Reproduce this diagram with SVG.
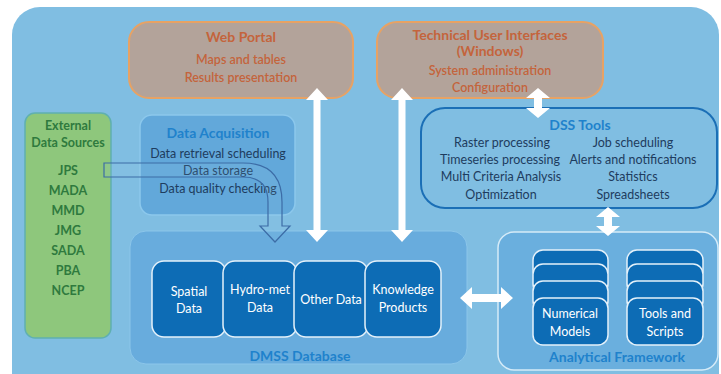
<svg xmlns="http://www.w3.org/2000/svg" width="721" height="374" viewBox="0 0 721 374">
<defs>
<style>
text{font-family:Lato,"Open Sans","Liberation Sans",sans-serif;text-anchor:middle;}
.tan{fill:#b3a39a;stroke:#e7a264;stroke-width:2;}
.tanT{fill:#c4643c;font-size:12.5px;font-weight:600;}
.tanH{fill:#c4643c;font-size:14px;font-weight:bold;}
.dk{fill:#1e3c5e;font-size:12.5px;}
.blueH{fill:#1f82cc;font-size:14px;font-weight:bold;}
.grn{fill:#2f7a3e;font-size:12.5px;font-weight:bold;}
.db{fill:#0d6cb5;stroke:#e4f1fa;stroke-width:1.5;}
.wt{fill:#ffffff;font-size:12.5px;}
.warr{fill:#ffffff;}
</style>
</defs>
<rect x="0" y="0" width="721" height="374" fill="#ffffff"/>
<rect x="12" y="7" width="707" height="400" rx="28" fill="#80bee2"/>

<g id="web-portal">
<rect class="tan" x="129" y="22" width="224" height="76" rx="20"/>
<text class="tanH" x="241" y="42">Web Portal</text>
<text class="tanT" x="241" y="64">Maps and tables</text>
<text class="tanT" x="241" y="82">Results presentation</text>
</g>

<g id="technical-ui">
<rect class="tan" x="377" y="22" width="226" height="76" rx="20"/>
<text class="tanH" x="490" y="40">Technical User Interfaces</text>
<text class="tanH" x="490" y="56">(Windows)</text>
<text class="tanT" x="490" y="75">System administration</text>
<text class="tanT" x="490" y="92">Configuration</text>
</g>

<g id="external-sources">
<rect x="25" y="113" width="86" height="225" rx="10" fill="#8ec77c" stroke="#5fb0b0" stroke-width="1.5"/>
<text class="grn" x="68" y="130">External</text>
<text class="grn" x="68" y="147">Data Sources</text>
<text class="grn" x="68" y="175">JPS</text>
<text class="grn" x="68" y="195">MADA</text>
<text class="grn" x="68" y="215">MMD</text>
<text class="grn" x="68" y="235">JMG</text>
<text class="grn" x="68" y="255">SADA</text>
<text class="grn" x="68" y="275">PBA</text>
<text class="grn" x="68" y="295">NCEP</text>
</g>

<g id="data-acquisition">
<rect x="140" y="115" width="155" height="100" rx="12" fill="#62a8da" stroke="#8cc8ec" stroke-width="1.5"/>
<text class="blueH" x="218" y="138">Data Acquisition</text>
<text class="dk" x="218" y="158">Data retrieval scheduling</text>
<text class="dk" x="218" y="175">Data storage</text>
<text class="dk" x="218" y="193">Data quality checking</text>
</g>

<g id="dss-tools">
<rect x="421" y="108" width="296" height="100" rx="24" fill="#80bee2" stroke="#1b6fb6" stroke-width="2"/>
<text class="blueH" x="580" y="130">DSS Tools</text>
<text class="dk" x="502" y="147">Raster processing</text>
<text class="dk" x="633" y="147">Job scheduling</text>
<text class="dk" x="500" y="164">Timeseries processing</text>
<text class="dk" x="633" y="164">Alerts and notifications</text>
<text class="dk" x="501" y="181">Multi Criteria Analysis</text>
<text class="dk" x="633" y="181">Statistics</text>
<text class="dk" x="501" y="199">Optimization</text>
<text class="dk" x="633" y="199">Spreadsheets</text>
</g>

<g id="dmss-database">
<rect x="130" y="231" width="337" height="133" rx="16" fill="#68acdd" stroke="#8cc6ea" stroke-width="1"/>
<text class="blueH" x="300" y="361">DMSS Database</text>
</g>
<g id="spatial-data">
<rect class="db" x="152" y="261" width="74" height="76" rx="12"/>
<text class="wt" x="189" y="296">Spatial</text>
<text class="wt" x="189" y="313">Data</text>
</g>
<g id="hydromet-data">
<rect class="db" x="223" y="261" width="74" height="76" rx="12"/>
<text class="wt" x="260" y="294">Hydro-met</text>
<text class="wt" x="260" y="312">Data</text>
</g>
<g id="other-data">
<rect class="db" x="294" y="261" width="74" height="76" rx="12"/>
<text class="wt" x="331" y="304">Other Data</text>
</g>
<g id="knowledge-products">
<rect class="db" x="365" y="261" width="76" height="76" rx="12"/>
<text class="wt" x="403" y="294">Knowledge</text>
<text class="wt" x="403" y="312">Products</text>
</g>

<g id="analytical-framework">
<rect x="498" y="232" width="220" height="138" rx="16" fill="#6aafde" stroke="#d5ebf8" stroke-width="1.5"/>
<text class="blueH" x="617" y="362">Analytical Framework</text>
</g>
<g id="numerical-models">
<rect class="db" x="533" y="250" width="75" height="30" rx="10"/>
<rect class="db" x="533" y="264" width="75" height="30" rx="10"/>
<rect class="db" x="533" y="281" width="75" height="30" rx="10"/>
<rect class="db" x="533" y="298" width="75" height="47" rx="10"/>
<text class="wt" x="570" y="318">Numerical</text>
<text class="wt" x="570" y="336">Models</text>
</g>
<g id="tools-scripts">
<rect class="db" x="627" y="250" width="76" height="30" rx="10"/>
<rect class="db" x="627" y="264" width="76" height="30" rx="10"/>
<rect class="db" x="627" y="281" width="76" height="30" rx="10"/>
<rect class="db" x="627" y="298" width="76" height="47" rx="10"/>
<text class="wt" x="665" y="318">Tools and</text>
<text class="wt" x="665" y="336">Scripts</text>
</g>

<g id="connectors">
<path class="warr" d="M317,88 L328,100 L320.5,100 L320.5,230 L328,230 L317,242 L306,230 L313.5,230 L313.5,100 L306,100 Z"/>
<path class="warr" d="M402,88 L413,100 L405.5,100 L405.5,230 L413,230 L402,242 L391,230 L398.5,230 L398.5,100 L391,100 Z"/>
<path class="warr" d="M538,88 L550,98 L542,98 L542,108 L550,108 L538,118 L526,108 L534,108 L534,98 L526,98 Z"/>
<path class="warr" d="M608,207 L620,217 L612,217 L612,226 L620,226 L608,236 L596,226 L604,226 L604,217 L596,217 Z"/>
<path class="warr" d="M460,298 L472,287 L472,294 L501,294 L501,287 L513,298 L501,309 L501,302 L472,302 L472,309 Z"/>
<path d="M104,163 H243 Q282,163 282,202 V226 H290 L275,242 L260,226 H268 V202 Q268,177 243,177 H104 Z" fill="#9acbea" fill-opacity="0.12" stroke="#3c6ca6" stroke-width="1.2"/>
</g>
</svg>
